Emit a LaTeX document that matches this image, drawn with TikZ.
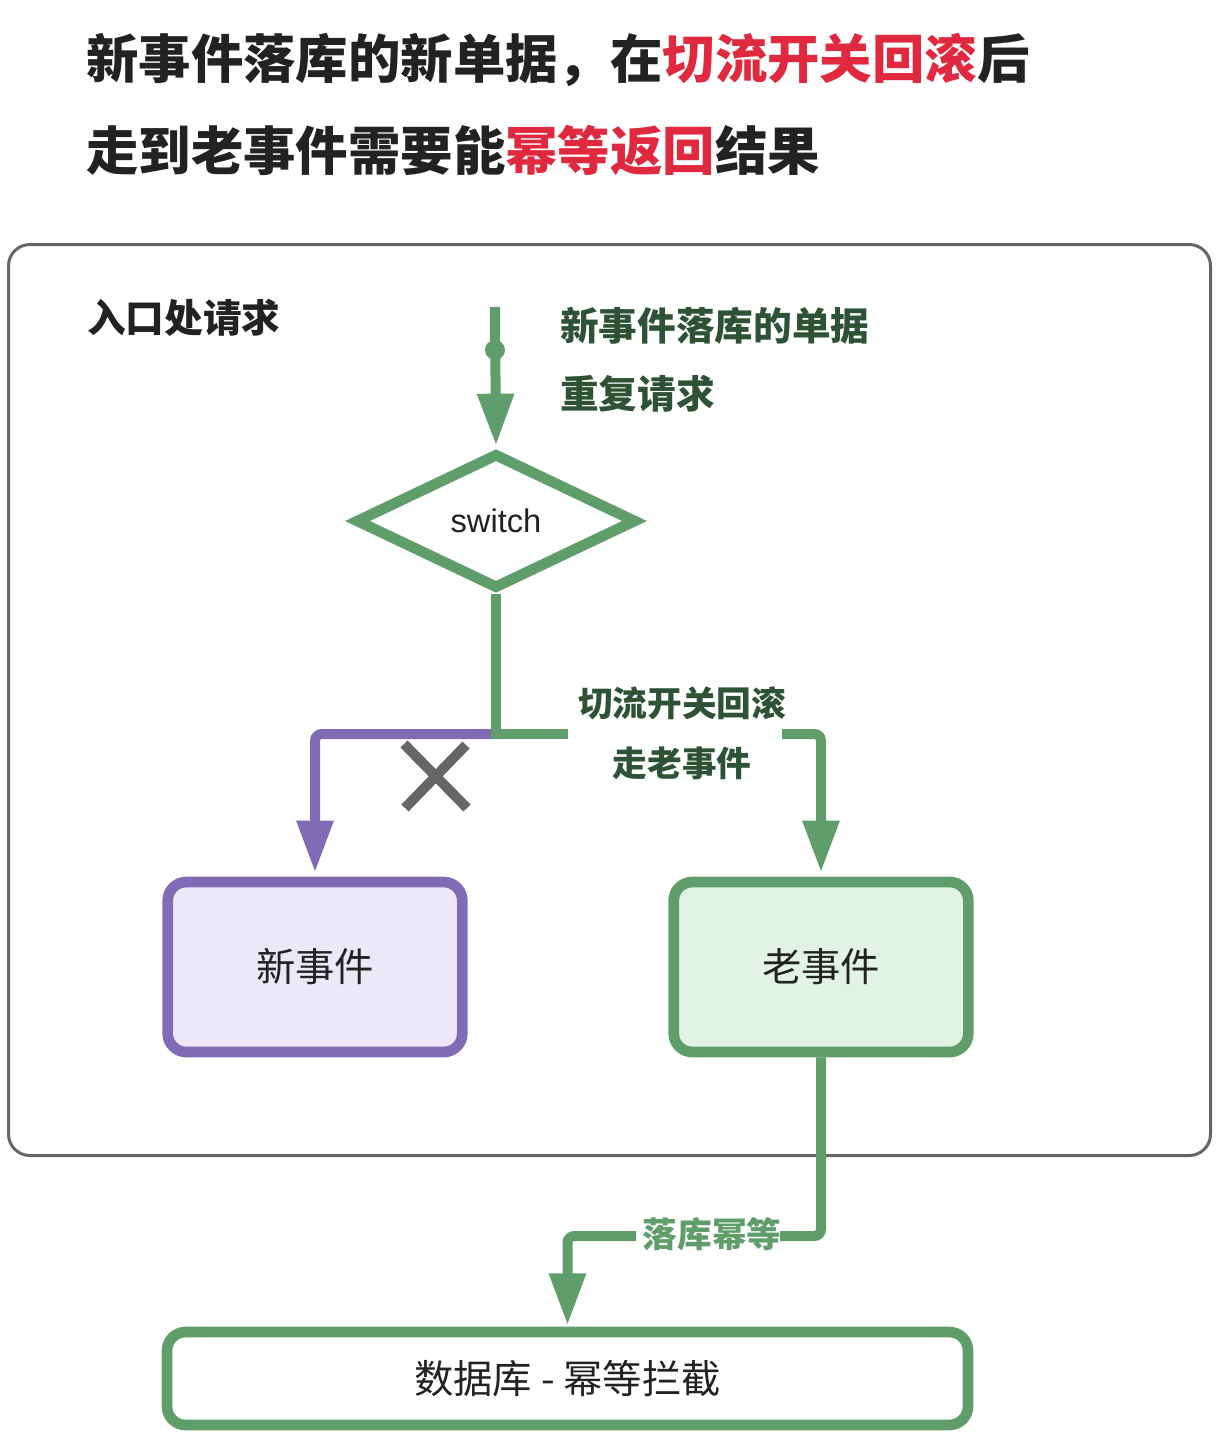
\documentclass[tikz,border=0pt]{standalone}
\usepackage{fontspec}
\setmainfont{Noto Sans CJK SC}
\newfontfamily\latinsans{Liberation Sans}
\usetikzlibrary{arrows.meta,shapes.geometric}
\definecolor{gline}{HTML}{5F9E6B}
\definecolor{gdark}{HTML}{2E5236}
\definecolor{pline}{HTML}{7F6BB6}
\definecolor{pfill}{HTML}{ECE8F8}
\definecolor{gfill}{HTML}{E2F2E5}
\definecolor{titred}{HTML}{E0283E}
\definecolor{titblk}{HTML}{222222}
\definecolor{frame}{HTML}{666666}
\newcommand{\fs}[1]{\fontsize{#1}{#1}\selectfont}
\tikzset{
  gconn/.style={draw=gline, line width=7.5pt},
  pconn/.style={draw=pline, line width=7.5pt},
  tipg/.style={-{Triangle[length=39pt,width=26pt]}},
  evbox/.style={rectangle, rounded corners=14pt, line width=8pt,
    minimum width=221pt, minimum height=127.5pt, inner sep=0pt, text=titblk, font=\fs{29.5pt}},
  lbl/.style={inner sep=0pt, anchor=west, text=gdark, font=\fs{29pt}\bfseries},
  midlbl/.style={inner sep=0pt, text=gdark, font=\fs{26pt}\bfseries},
}
\begin{document}
\begin{tikzpicture}[x=0.75pt,y=-0.75pt]
\useasboundingbox (0,0) rectangle (1223,1439);
% titles
\node[inner sep=0pt, anchor=west, text=titblk, font=\fs{39.3pt}\bfseries] (t1) at (86,60)
  {新事件落库的新单据，在\textcolor{titred}{切流开关回滚}后};
\node[inner sep=0pt, anchor=west, text=titblk, font=\fs{39.3pt}\bfseries] (t2) at (86,151)
  {走到老事件需要能\textcolor{titred}{幂等返回}结果};
% container
\node[draw=frame, line width=2.25pt, rounded corners=16pt, minimum width=901.5pt,
  minimum height=683.25pt, inner sep=0pt] (cont) at (609.5,700) {};
\node[inner sep=0pt, anchor=west, text=titblk, font=\fs{29pt}\bfseries] (entry) at (87,318) {入口处请求};
% labels
\node[lbl] (l1) at (560,326) {新事件落库的单据};
\node[lbl] (l2) at (560,394) {重复请求};
% diamond
\node[diamond, draw=gline, line width=8pt, minimum width=211pt, minimum height=102pt,
  inner sep=0pt, fill=white, font=\latinsans\fs{24.5pt}, text=titblk] (sw) at (496,521) {switch};
% boxes
\node[evbox, draw=pline, fill=pfill] (new) at (315,967) {新事件};
\node[evbox, draw=gline, fill=gfill] (old) at (821,967) {老事件};
\node[rectangle, rounded corners=14pt, line width=8pt, draw=gline, fill=white,
  minimum width=600.75pt, minimum height=69.75pt, inner sep=0pt, text=titblk, font=\fs{29.5pt}]
  (db) at (567.5,1378.5) {数据库 - 幂等拦截};
% entry arrow
\coordinate (start) at (495,307);
\node[circle, fill=gline, minimum size=15pt, inner sep=0pt] (dot) at (495,350) {};
\draw[gconn, tipg, shorten >=1.5pt] (start) -- (sw.north);
% branches
\coordinate (J) at (496,734);
\coordinate (g1) at (568,734);
\coordinate (g2) at (782,734);
\draw[pconn, tipg, rounded corners=5pt, shorten >=3pt] (J) -| (new.north);
\draw[gconn, line join=miter] (sw.south) -- (J) -- (g1);
\draw[gconn, tipg, rounded corners=5pt, shorten >=3pt] (g2) -| (old.north);
\node[midlbl] (l3) at (682,703) {切流开关回滚};
\node[midlbl] (l4) at (682,763) {走老事件};
% cross
\coordinate (x1) at (404,744);
\coordinate (x2) at (467,808);
\coordinate (x3) at (466,745);
\coordinate (x4) at (405,808);
\draw[draw=frame, line width=7.5pt] (x1) -- (x2);
\draw[draw=frame, line width=7.5pt] (x3) -- (x4);
% bottom connector
\coordinate (b1) at (636,1236);
\coordinate (b2) at (780,1236);
\draw[gconn, rounded corners=5pt] (old.south) |- (b2);
\draw[gconn, tipg, rounded corners=5pt, shorten >=1pt] (b1) -| (db.north);
\node[inner sep=0pt, text=gline, font=\fs{26pt}\bfseries] (l5) at (712,1234) {落库幂等};
\end{tikzpicture}
\end{document}
